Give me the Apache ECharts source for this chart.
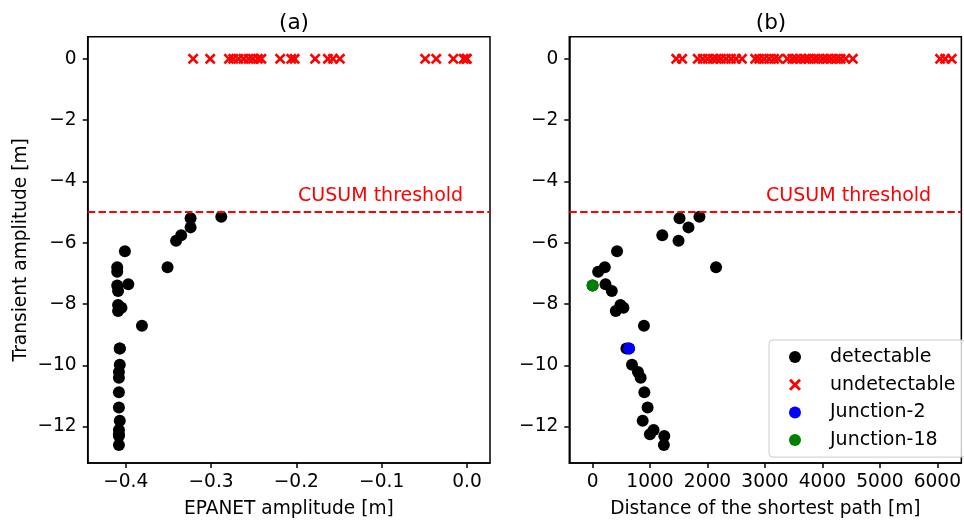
<!DOCTYPE html>
<html>
<head>
<meta charset="utf-8">
<script src="https://cdn.jsdelivr.net/npm/echarts@6/dist/echarts.min.js"></script>
<style>html,body{margin:0;padding:0;background:#fff}#c{width:964px;height:524px}</style>
</head>
<body>
<div id="c"></div>
<script>
// ---- data ----
const transientAmp = [-5.15,-5.20,-5.50,-5.76,-5.94,-6.28,-6.80,-6.80,-6.95,-7.40,-7.36,-7.58,-8.03,-8.12,-8.23,-8.71,-9.45,-9.45,-9.98,-10.22,-10.41,-10.88,-11.38,-11.81,-12.11,-12.25,-12.31,-12.60];
const epanetAmp = [-0.288,-0.324,-0.324,-0.335,-0.341,-0.401,-0.351,-0.410,-0.410,-0.410,-0.397,-0.409,-0.409,-0.405,-0.409,-0.381,-0.407,-0.407,-0.407,-0.408,-0.408,-0.408,-0.408,-0.407,-0.408,-0.408,-0.408,-0.408];
const shortestDist = [1860,1513,1669,1213,1496,426,2149,213,97,0,225,335,485,537,404,894,589,634,686,790,837,901,958,872,1062,998,1248,1241];
const undetEpanet = [-0.321,-0.301,-0.279,-0.274,-0.268,-0.262,-0.256,-0.251,-0.245,-0.241,-0.219,-0.206,-0.202,-0.178,-0.163,-0.157,-0.149,-0.049,-0.036,-0.016,-0.004,-0.001,0.000];
const undetDist = [1456,1560,1830,1917,2004,2090,2160,2235,2322,2409,2496,2600,2830,2900,2986,3073,3159,3234,3390,3477,3546,3622,3697,3766,3853,3928,4009,4083,4159,4240,4316,4402,4529,6048,6135,6250];
const undetAmp = 0;
const junction2 = [634, -9.45];
const junction18 = [0, -7.40];
const cusumThreshold = -5;
const yTicks = [-12,-10,-8,-6,-4,-2,0];
const xTicksA = [-0.4,-0.3,-0.2,-0.1,0.0];
const xTicksB = [0,1000,2000,3000,4000,5000,6000];

// ---- chart ----
const FONT = 'DejaVu Sans';
const FS = 18.6;
const xPath = 'path://M0,17L17,0L50,33L83,0L100,17L67,50L100,83L83,100L50,67L17,100L0,83L33,50Z';
const minus = s => String(s).replace('-', '\u2212');

const axisCommon = {
  axisLine: {show: true, onZero: false, lineStyle: {color: '#000', width: 1.5}},
  axisTick: {show: true, inside: false, length: 5, lineStyle: {color: '#000', width: 1.5}},
  splitLine: {show: false},
  axisLabel: {color: '#000', fontFamily: FONT, fontSize: FS},
  nameTextStyle: {color: '#000', fontFamily: FONT, fontSize: FS},
};

function xAxisDef(idx, min, max, ticks, fmt, name) {
  return Object.assign({}, axisCommon, {
    type: 'value', gridIndex: idx, min: min, max: max,
    name: name, nameLocation: 'middle', nameGap: 37,
    axisTick: Object.assign({}, axisCommon.axisTick, {customValues: ticks}),
    axisLabel: Object.assign({}, axisCommon.axisLabel, {customValues: ticks, margin: 10, formatter: fmt}),
  });
}
function yAxisDef(idx, name) {
  return Object.assign({}, axisCommon, {
    type: 'value', gridIndex: idx, min: -13.19, max: 0.723,
    name: name, nameLocation: 'middle', nameGap: 57, nameRotate: 90,
    axisTick: Object.assign({}, axisCommon.axisTick, {customValues: yTicks}),
    axisLabel: Object.assign({}, axisCommon.axisLabel, {customValues: yTicks, margin: 11, formatter: v => minus(v)}),
  });
}

const detA = transientAmp.map((y, i) => [epanetAmp[i], y]);
const detB = transientAmp.map((y, i) => [shortestDist[i], y]);
const undA = undetEpanet.map(x => [x, undetAmp]);
const undB = undetDist.map(x => [x, undetAmp]);

const thresholdMark = {
  silent: true, symbol: 'none',
  lineStyle: {color: '#ff0000', type: [7.5, 3.3], width: 2, opacity: 1},
  label: {show: false},
  data: [{yAxis: cusumThreshold}]
};

function labelSeries(idx, pos) {
  return {
    type: 'scatter', xAxisIndex: idx, yAxisIndex: idx, symbolSize: 0, silent: true,
    itemStyle: {opacity: 1},
    data: [pos],
    label: {show: true, position: 'inside', align: 'left', verticalAlign: 'middle', opacity: 1,
      formatter: 'CUSUM threshold', color: '#ff0000', fontFamily: FONT, fontSize: 19},
    z: 5
  };
}
const pointStyle = c => ({color: c, opacity: 1});

const option = {
  animation: false,
  backgroundColor: '#fff',
  title: [
    {text: '(a)', left: 289, top: 7, textAlign: 'center', textStyle: {fontFamily: FONT, fontSize: 21.6, fontWeight: 'normal', color: '#000'}},
    {text: '(b)', left: 766, top: 7, textAlign: 'center', textStyle: {fontFamily: FONT, fontSize: 21.6, fontWeight: 'normal', color: '#000'}},
  ],
  grid: [
    {left: 87.7, top: 36.7, width: 402.3, height: 429, show: true, borderColor: '#000', borderWidth: 1.5, backgroundColor: 'transparent'},
    {left: 569.3, top: 36.7, width: 394, height: 429, show: true, borderColor: '#000', borderWidth: 1.5, backgroundColor: 'transparent'},
  ],
  xAxis: [
    xAxisDef(0, -0.4446, 0.027, xTicksA, v => minus(Number(v).toFixed(1)), 'EPANET amplitude [m]'),
    xAxisDef(1, -405, 6418, xTicksB, v => String(v), 'Distance of the shortest path [m]'),
  ],
  yAxis: [
    yAxisDef(0, 'Transient amplitude [m]'),
    Object.assign(yAxisDef(1, ''), {name: ''}),
  ],
  legend: {
    show: true, orient: 'vertical', left: 769, top: 340,
    padding: [7, 10, 7, 20], itemGap: 7.7, itemWidth: 12, itemHeight: 12,
    backgroundColor: 'rgba(255,255,255,0.8)', borderColor: '#cccccc', borderWidth: 1, borderRadius: 4,
    selectedMode: false,
    textStyle: {fontFamily: FONT, fontSize: 19, color: '#000', lineHeight: 20, padding: [0, 0, 0, 24]},
    data: [
      {name: 'detectable', icon: 'circle'},
      {name: 'undetectable', icon: xPath},
      {name: 'Junction-2', icon: 'circle'},
      {name: 'Junction-18', icon: 'circle'},
    ]
  },
  series: [
    {name: 'undetectable', type: 'scatter', xAxisIndex: 0, yAxisIndex: 0, symbol: xPath, symbolSize: 11,
      itemStyle: pointStyle('#ff0000'), data: undA, markLine: thresholdMark},
    {name: 'detectable', type: 'scatter', xAxisIndex: 0, yAxisIndex: 0, symbol: 'circle', symbolSize: 12,
      itemStyle: pointStyle('#000000'), data: detA},
    labelSeries(0, [-0.198, -4.476]),
    {name: 'undetectable', type: 'scatter', xAxisIndex: 1, yAxisIndex: 1, symbol: xPath, symbolSize: 11,
      itemStyle: pointStyle('#ff0000'), data: undB, markLine: thresholdMark},
    {name: 'detectable', type: 'scatter', xAxisIndex: 1, yAxisIndex: 1, symbol: 'circle', symbolSize: 12,
      itemStyle: pointStyle('#000000'), data: detB},
    {name: 'Junction-2', type: 'scatter', xAxisIndex: 1, yAxisIndex: 1, symbol: 'circle', symbolSize: 12,
      itemStyle: pointStyle('#0000ff'), data: [junction2]},
    {name: 'Junction-18', type: 'scatter', xAxisIndex: 1, yAxisIndex: 1, symbol: 'circle', symbolSize: 12,
      itemStyle: pointStyle('#008000'), data: [junction18]},
    labelSeries(1, [3020, -4.476]),
  ]
};

const chart = echarts.init(document.getElementById('c'), null, {renderer: 'canvas'});
chart.setOption(option);
</script>
</body>
</html>
